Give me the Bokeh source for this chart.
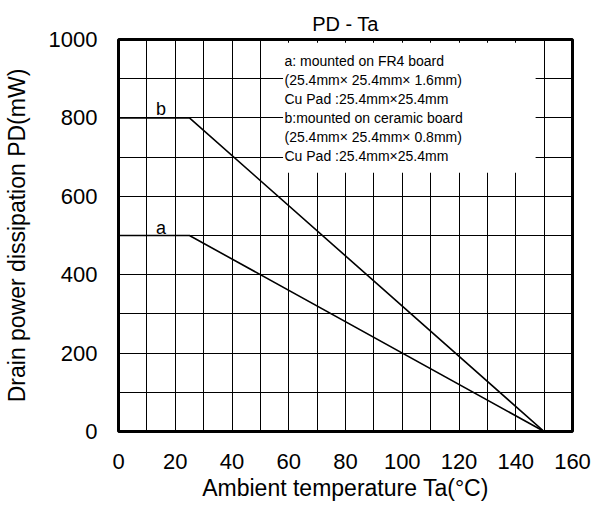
from bokeh.plotting import figure
from bokeh.models import Range1d, FixedTicker
from bokeh.core.properties import value
from bokeh.embed import file_html
from bokeh.resources import INLINE

# Data
temp_a = [0, 25, 150]
pd_a = [500, 500, 0]
temp_b = [0, 25, 150]
pd_b = [800, 800, 0]
x_ticks = [0, 20, 40, 60, 80, 100, 120, 140, 160]
y_ticks = [0, 200, 400, 600, 800, 1000]
x_grid = list(range(0, 161, 10))
y_grid = list(range(0, 1001, 100))
curve_labels = ["a", "b"]
legend_lines = [
    "a: mounted on FR4 board",
    "(25.4mm\u00d7 25.4mm\u00d7 1.6mm)",
    "Cu Pad :25.4mm\u00d725.4mm",
    "b:mounted on ceramic board",
    "(25.4mm\u00d7 25.4mm\u00d7 0.8mm)",
    "Cu Pad :25.4mm\u00d725.4mm",
]

FONT = "Liberation Sans"

p = figure(width=592, height=503, output_backend="svg", toolbar_location=None,
           x_range=Range1d(0, 160), y_range=Range1d(0, 1000),
           min_border_left=113, min_border_right=20, min_border_top=39, min_border_bottom=70,
           title="PD - Ta")
p.background_fill_color = "white"
p.border_fill_color = "white"
p.outline_line_color = "black"
p.outline_line_width = 3

p.title.align = "center"
p.title.text_font = FONT
p.title.text_font_size = "20px"
p.title.text_font_style = "normal"
p.title.text_color = "black"

for ax in (p.xaxis[0], p.yaxis[0]):
    ax.axis_line_color = None
    ax.major_tick_line_color = None
    ax.minor_tick_line_color = None
    ax.major_tick_out = 0
    ax.major_tick_in = 0
    ax.minor_tick_out = 0
    ax.major_label_text_font = FONT
    ax.major_label_text_font_size = "22px"
    ax.major_label_text_color = "black"
    ax.axis_label_text_font = FONT
    ax.axis_label_text_font_size = "23px"
    ax.axis_label_text_font_style = "normal"
    ax.axis_label_text_color = "black"

p.xaxis.ticker = FixedTicker(ticks=x_ticks)
p.yaxis.ticker = FixedTicker(ticks=y_ticks)
p.xaxis.axis_label = "Ambient temperature Ta(\u00b0C)"
p.yaxis.axis_label = "Drain power dissipation PD(mW)"
p.xaxis.major_label_standoff = 22
p.xaxis.axis_label_standoff = 3
p.yaxis.major_label_standoff = 21
p.yaxis.axis_label_standoff = 16

p.xgrid.ticker = FixedTicker(ticks=x_grid)
p.ygrid.ticker = FixedTicker(ticks=y_grid)
for g in (p.xgrid[0], p.ygrid[0]):
    g.grid_line_color = "black"
    g.grid_line_width = 1
    g.grid_line_alpha = 1.0

# Curves
p.line(temp_a, pd_a, line_color="black", line_width=1.6)
p.line(temp_b, pd_b, line_color="black", line_width=1.6)

# Curve labels
p.text(x=[15, 15], y=[518, 822], text=curve_labels, text_font=value(FONT),
       text_font_size="18px", text_color="black", text_align="center",
       text_baseline="alphabetic")

# Legend box
p.quad(left=[58], right=[147], bottom=[660], top=[992], fill_color="white", line_color=None)
ys = [946 - 48.4 * i for i in range(len(legend_lines))]
p.text(x=[58.5] * len(legend_lines), y=ys, text=legend_lines, text_font=value(FONT),
       text_font_size="14px", text_color="black", text_align="left", text_baseline="middle")

open("out.html", "w").write(file_html(p, INLINE))
